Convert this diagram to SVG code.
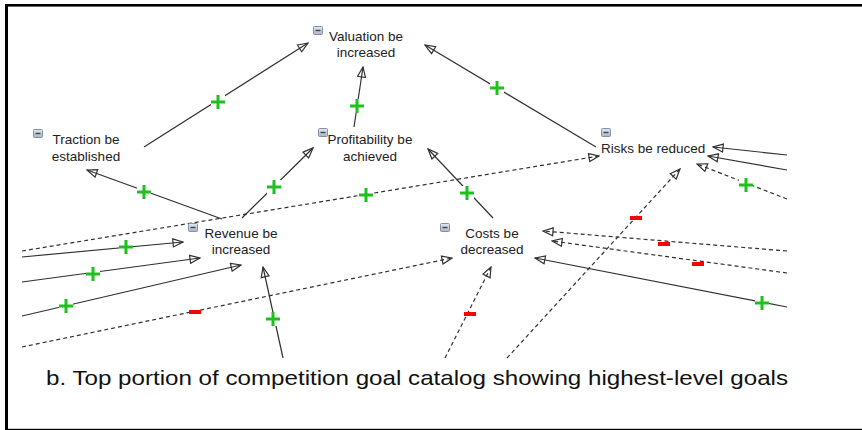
<svg xmlns="http://www.w3.org/2000/svg" width="862" height="430" viewBox="0 0 862 430">
  <style>
    .lbl { font-family: "Liberation Sans", Arial, sans-serif; font-size: 13.5px; fill: #222; }
    .cap { font-family: "Liberation Sans", Arial, sans-serif; font-size: 21px; fill: #111; }
    .solid { stroke: #303030; stroke-width: 1.2; fill: none; marker-end: url(#open); }
    .dash { stroke: #303030; stroke-width: 1.2; fill: none; stroke-dasharray: 4 3; marker-end: url(#open); }
  </style>
  <defs>
    <marker id="open" markerUnits="userSpaceOnUse" viewBox="0 0 12 10" markerWidth="12" markerHeight="10" refX="11" refY="5" orient="auto">
      <path d="M1,1 L11,5 L1,9 Z" fill="none" stroke="#303030" stroke-width="1.2" stroke-linejoin="miter"/>
    </marker>
    <linearGradient id="ig" x1="0" y1="0" x2="0" y2="1">
      <stop offset="0" stop-color="#e4e8ee"/>
      <stop offset="1" stop-color="#a9b4c3"/>
    </linearGradient>
    <!-- collapse toggle shown beside each goal -->
    <g id="collapse">
      <rect x="0.5" y="0.5" width="9" height="8" rx="1" fill="url(#ig)" stroke="#8391a6"/>
      <path d="M2.5,4.5h5" stroke="#3a4350" stroke-width="1.4"/>
    </g>
    <g id="plus">
      <rect x="-7" y="-7" width="14" height="14" fill="#fff"/>
      <path d="M-7,0H7M0,-7V7" stroke="#1ec01e" stroke-width="3"/>
    </g>
    <g id="minus">
      <rect x="-6" y="-2" width="12" height="4" fill="#f00"/>
    </g>
  </defs>

  <rect width="862" height="430" fill="#fff"/>

  <!-- frame -->
  <g id="frame" fill="#000">
    <rect x="5" y="4" width="3" height="426"/>
    <rect x="5" y="4" width="857" height="2.6"/>
    <rect x="5" y="428.8" width="857" height="2"/>
  </g>

  <!-- connectors -->
  <g id="connectors">
    <line class="solid" x1="144" y1="147" x2="308" y2="43"/>
    <line class="solid" x1="354" y1="127" x2="363" y2="67"/>
    <line class="solid" x1="596" y1="147" x2="425" y2="45"/>
    <line class="solid" x1="222" y1="219" x2="87" y2="170"/>
    <line class="solid" x1="242" y1="218" x2="313" y2="148"/>
    <line class="solid" x1="493" y1="218" x2="428" y2="149"/>
    <line class="dash" x1="22" y1="251" x2="599" y2="156"/>
    <line class="solid" x1="22" y1="257" x2="183" y2="242"/>
    <line class="solid" x1="22" y1="282" x2="200" y2="258"/>
    <line class="solid" x1="22" y1="316" x2="241" y2="265"/>
    <line class="dash" x1="22" y1="347" x2="452" y2="258"/>
    <line class="solid" x1="283" y1="358" x2="263" y2="267"/>
    <line class="dash" x1="445" y1="358" x2="491" y2="267"/>
    <line class="dash" x1="507" y1="358" x2="680" y2="169"/>
    <line class="solid" x1="787" y1="155" x2="713" y2="147"/>
    <line class="solid" x1="787" y1="170" x2="708" y2="156"/>
    <line class="dash" x1="787" y1="199" x2="697" y2="164"/>
    <line class="dash" x1="787" y1="251" x2="543" y2="231"/>
    <line class="dash" x1="787" y1="273" x2="552" y2="241"/>
    <line class="solid" x1="787" y1="307" x2="535" y2="258"/>

    <!-- contribution signs -->
    <use href="#plus" x="218" y="102"/>
    <use href="#plus" x="357" y="106"/>
    <use href="#plus" x="497" y="88"/>
    <use href="#plus" x="144" y="192"/>
    <use href="#plus" x="274" y="187"/>
    <use href="#plus" x="467" y="193"/>
    <use href="#plus" x="366" y="195"/>
    <use href="#plus" x="126" y="247"/>
    <use href="#plus" x="93" y="274"/>
    <use href="#plus" x="66" y="306"/>
    <use href="#plus" x="273" y="319"/>
    <use href="#plus" x="746" y="185"/>
    <use href="#plus" x="762" y="303"/>
    <use href="#minus" x="195" y="312"/>
    <use href="#minus" x="470" y="314"/>
    <use href="#minus" x="636" y="218"/>
    <use href="#minus" x="664" y="244"/>
    <use href="#minus" x="698" y="264"/>
  </g>

  <!-- goals -->
  <g id="valuation">
    <use href="#collapse" x="313" y="26"/>
    <text class="lbl" text-anchor="middle" x="366" y="40.5">Valuation be</text>
    <text class="lbl" text-anchor="middle" x="366" y="57">increased</text>
  </g>
  <g id="traction">
    <use href="#collapse" x="33" y="129"/>
    <text class="lbl" text-anchor="middle" x="86" y="144">Traction be</text>
    <text class="lbl" text-anchor="middle" x="86" y="160.7">established</text>
  </g>
  <g id="profitability">
    <use href="#collapse" x="318" y="128"/>
    <text class="lbl" text-anchor="middle" x="370" y="144">Profitability be</text>
    <text class="lbl" text-anchor="middle" x="370" y="160.7">achieved</text>
  </g>
  <g id="risks">
    <use href="#collapse" x="601" y="128"/>
    <text class="lbl" x="601" y="153">Risks be reduced</text>
  </g>
  <g id="revenue">
    <use href="#collapse" x="188" y="223"/>
    <text class="lbl" text-anchor="middle" x="241" y="238.3">Revenue be</text>
    <text class="lbl" text-anchor="middle" x="241" y="254.3">increased</text>
  </g>
  <g id="costs">
    <use href="#collapse" x="440" y="223"/>
    <text class="lbl" text-anchor="middle" x="492" y="238">Costs be</text>
    <text class="lbl" text-anchor="middle" x="492" y="254">decreased</text>
  </g>

  <text class="cap" x="46" y="385" textLength="742" lengthAdjust="spacingAndGlyphs">b. Top portion of competition goal catalog showing highest-level goals</text>
</svg>
